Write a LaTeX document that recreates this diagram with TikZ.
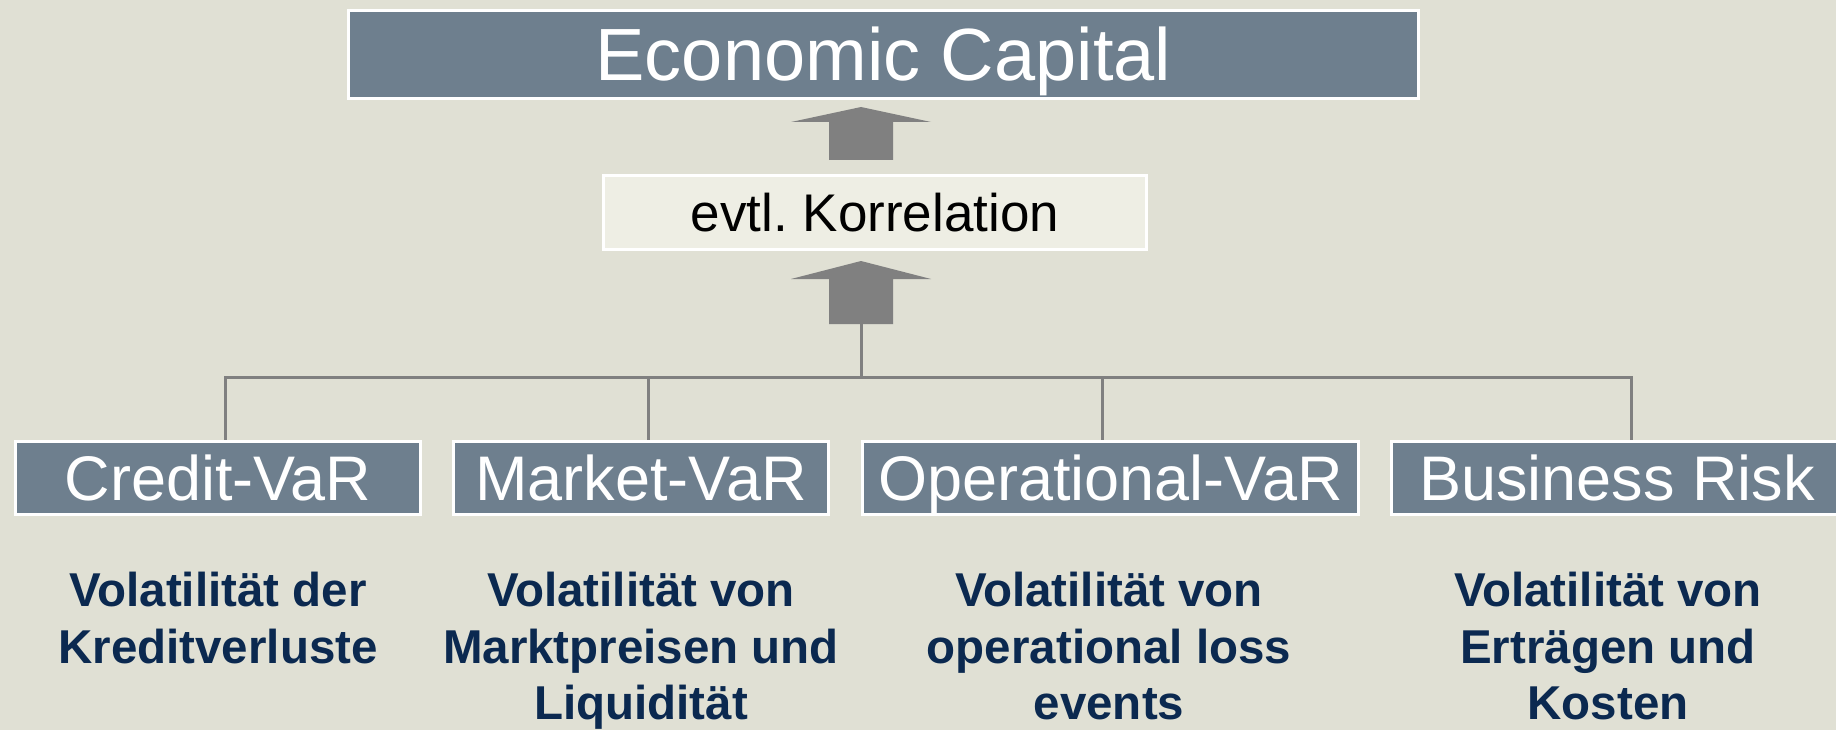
\documentclass[tikz,border=0pt]{standalone}
\usepackage{fontspec}
\setmainfont{Liberation Sans}
\usepackage{xcolor}
\usetikzlibrary{positioning}
\frenchspacing

\definecolor{bgbeige}{HTML}{E0E0D4}
\definecolor{slatefill}{HTML}{6E7F8E}
\definecolor{palefill}{HTML}{EEEEE4}
\definecolor{navytext}{HTML}{0B2950}
\definecolor{arrowgray}{HTML}{808080}

\begin{document}
\begin{tikzpicture}[x=1pt, y=-1pt,
  capbox/.style={draw=white, line width=2.5pt, fill=slatefill, text=white, inner sep=0pt,
    minimum width=1070pt, minimum height=88pt, text height=53pt, text depth=0pt,
    font=\fontsize{74}{80}\selectfont},
  corrbox/.style={draw=white, line width=2.5pt, fill=palefill, text=black, inner sep=0pt,
    minimum width=543pt, minimum height=74pt, text height=38pt, text depth=0pt,
    font=\fontsize{53}{60}\selectfont},
  riskbox/.style={draw=white, line width=2.5pt, fill=slatefill, text=white, inner sep=0pt,
    minimum height=73pt, text height=45pt, text depth=0pt,
    font=\fontsize{63}{70}\selectfont},
  desc/.style={anchor=north, align=center, text=navytext, inner sep=0pt,
    font=\fontsize{47.5}{56.5}\selectfont\bfseries},
  link/.style={draw=arrowgray, line width=3pt}]

  % Background
  \fill[bgbeige] (0,0) rectangle (1836,730);
  \clip (0,0) rectangle (1836,730);

  % Top and correlation boxes
  \node[capbox] (ecap) at (883.5,54.5) {Economic Capital};
  \node[corrbox] (corr) at (875,212.5) {evtl. Korrelation};

  % Block arrows
  \foreach \tip/\wing/\base in {107/122/160, 261/279/324} {
    \fill[arrowgray] (861,\tip) -- (931,\wing) -- (893,\wing) -- (893,\base)
      -- (829,\base) -- (829,\wing) -- (791,\wing) -- cycle;
  }

  % Risk boxes
  \foreach \name/\cx/\w/\lab in {credit/218/405/{Credit-VaR}, market/641/375/{Market-VaR},
      oprisk/1110.5/496/{Operational-VaR}, business/1617/451/{Business Risk}} {
    \node[riskbox, minimum width=\w pt] (\name) at (\cx,478) {\lab};
  }

  % Bus lines
  \coordinate (feed) at (861,324);
  \coordinate (bus) at (861,377);
  \draw[link] (feed) -- (bus);
  \draw[link] (bus) -| ([xshift=7pt]credit.north);
  \draw[link] (bus) -| ([xshift=7pt]market.north);
  \draw[link] (bus) -| ([xshift=-8.5pt]oprisk.north);
  \draw[link] (bus) -| ([xshift=14pt]business.north);

  % Descriptions
  \node[desc] (creditdesc) at (218,572) {Volatilität der\\Kreditverluste};
  \node[desc] (marketdesc) at (641,572) {Volatilität von\\Marktpreisen und\\Liquidität};
  \node[desc] (opdesc) at (1109,572) {Volatilität von\\operational loss\\events};
  \node[desc] (busdesc) at (1608,572) {Volatilität von\\Erträgen und\\Kosten};

\end{tikzpicture}
\end{document}
